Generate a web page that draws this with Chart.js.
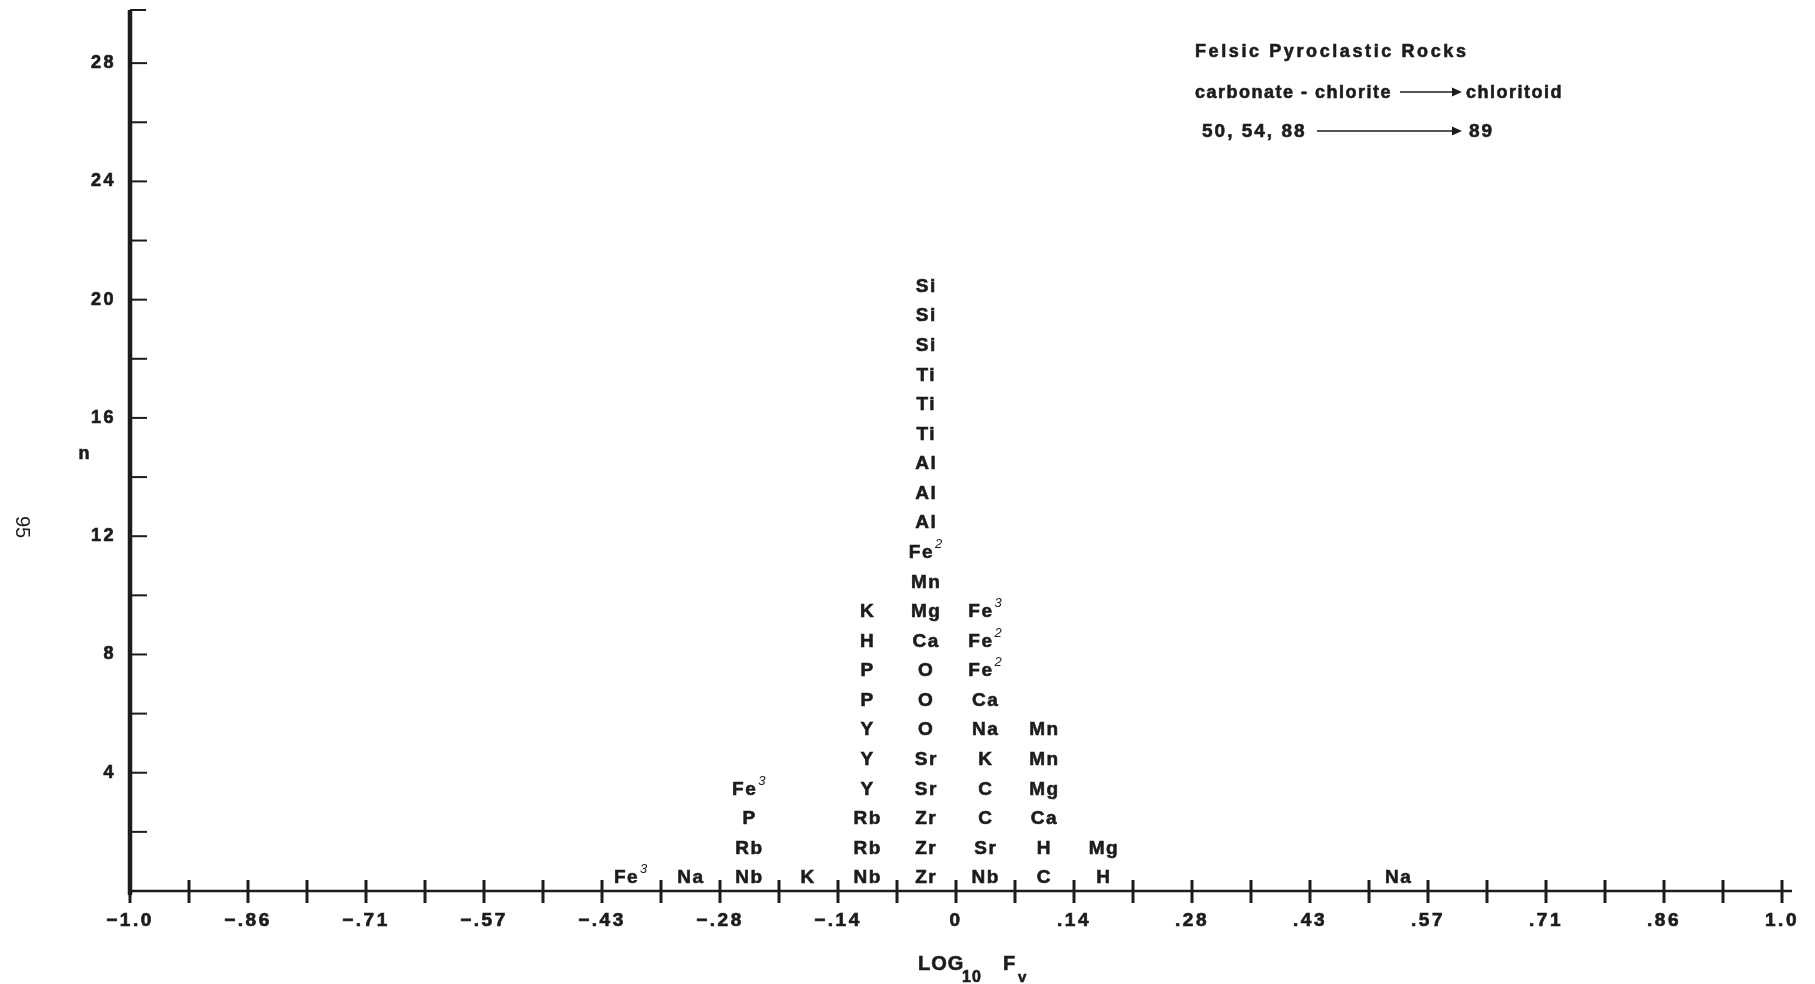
<!DOCTYPE html>
<html>
<head>
<meta charset="utf-8">
<title>Felsic Pyroclastic Rocks</title>
<script src="https://cdn.jsdelivr.net/npm/chart.js@4.4.1/dist/chart.umd.min.js"></script>
<style>
  html, body { margin: 0; padding: 0; background: #fff; }
  #wrap { width: 1815px; height: 984px; position: relative; }
</style>
</head>
<body>
<div id="wrap"><canvas id="myChart"></canvas></div>
<script>
// centres of the log10 Fv bins (bin width 1/14)
const binCenters = [-0.393, -0.321, -0.25, -0.179, -0.107, -0.036, 0.036, 0.107, 0.179, 0.536];

// elements stacked in each bin, from the axis upward ("^" = superscript)
const binElements = [
    ["Fe^3"],
    ["Na"],
    ["Nb", "Rb", "P", "Fe^3"],
    ["K"],
    ["Nb", "Rb", "Rb", "Y", "Y", "Y", "P", "P", "H", "K"],
    ["Zr", "Zr", "Zr", "Sr", "Sr", "O", "O", "O", "Ca", "Mg", "Mn", "Fe^2", "Al", "Al", "Al", "Ti", "Ti", "Ti", "Si", "Si", "Si"],
    ["Nb", "Sr", "C", "C", "K", "Na", "Ca", "Fe^2", "Fe^2", "Fe^3"],
    ["C", "H", "Ca", "Mg", "Mn", "Mn"],
    ["H", "Mg"],
    ["Na"]
];

const xTickLabels = ["\u22121.0", "\u2212.86", "\u2212.71", "\u2212.57", "\u2212.43", "\u2212.28", "\u2212.14", "0", ".14", ".28", ".43", ".57", ".71", ".86", "1.0"];
const yTickValues = [2, 4, 6, 8, 10, 12, 14, 16, 18, 20, 22, 24, 26, 28];
const yTickLabels = ["", "4", "", "8", "", "12", "", "16", "", "20", "", "24", "", "28"];

const ink = '#1c1c1c';
const FONT = '"Liberation Sans", Arial, sans-serif';

// tick every 1/14, labelled every other one
let xTicks = [];
for (let k = 0; k <= 28; k++) xTicks.push(-1 + k / 14);

let points = [];
binElements.forEach((list, b) => {
    list.forEach((name, i) => {
        points.push({ x: binCenters[b], y: i + 0.5, name: name });
    });
});

// filled and lightly stroked, the scan is heavy
function heavyText(ctx, s, x, y) {
    ctx.lineWidth = 0.6;
    ctx.fillText(s, x, y);
    ctx.strokeText(s, x, y);
}

function drawElement(ctx, name, x, y) {
    let parts = name.split('^');
    ctx.font = 'bold 19px ' + FONT;
    let w = ctx.measureText(parts[0]).width;
    let sw = 0;
    if (parts[1]) {
        ctx.font = 'italic 13px ' + FONT;
        sw = ctx.measureText(parts[1]).width + 1;
    }
    let x0 = x - (w + sw) / 2;
    ctx.font = 'bold 19px ' + FONT;
    heavyText(ctx, parts[0], x0, y + 7);
    if (parts[1]) {
        ctx.font = 'italic 13px ' + FONT;
        ctx.fillText(parts[1], x0 + w + 1, y - 3);
    }
}

const spacingPlugin = {
    id: 'spacing',
    beforeDraw(chart) {
        chart.ctx.letterSpacing = '2.5px';
    }
};

const axisPlugin = {
    id: 'axes',
    afterDraw(chart) {
        const ctx = chart.ctx;
        const xs = chart.scales.x;
        const ys = chart.scales.y;
        const a = chart.chartArea;
        ctx.save();
        ctx.strokeStyle = ink;
        ctx.lineCap = 'butt';

        // y axis, thick, with a cap at the top
        ctx.lineWidth = 4.5;
        ctx.beginPath();
        ctx.moveTo(a.left, a.top + 6);
        ctx.lineTo(a.left, a.bottom + 4);
        ctx.stroke();
        ctx.lineWidth = 2;
        ctx.beginPath();
        ctx.moveTo(a.left, a.top + 6);
        ctx.lineTo(a.left + 16, a.top + 6);
        ctx.stroke();

        // y ticks point into the plot
        yTickValues.forEach(v => {
            let py = ys.getPixelForValue(v);
            ctx.beginPath();
            ctx.moveTo(a.left, py);
            ctx.lineTo(a.left + 17, py);
            ctx.stroke();
        });

        // x axis
        ctx.lineWidth = 2.5;
        ctx.beginPath();
        ctx.moveTo(a.left, a.bottom);
        ctx.lineTo(a.right + 10, a.bottom);
        ctx.stroke();

        // x ticks cross the axis
        ctx.lineWidth = 3;
        xTicks.forEach(v => {
            let px = xs.getPixelForValue(v);
            ctx.beginPath();
            ctx.moveTo(px, a.bottom - 11);
            ctx.lineTo(px, a.bottom + 12);
            ctx.stroke();
        });
        ctx.restore();
    }
};

const labelPlugin = {
    id: 'elementLabels',
    afterDatasetsDraw(chart) {
        const ctx = chart.ctx;
        const meta = chart.getDatasetMeta(0);
        const data = chart.data.datasets[0].data;
        ctx.save();
        ctx.fillStyle = ink;
        ctx.strokeStyle = ink;
        ctx.textAlign = 'left';
        ctx.textBaseline = 'alphabetic';
        ctx.letterSpacing = '1.5px';
        meta.data.forEach((el, i) => {
            drawElement(ctx, data[i].name, el.x, el.y);
        });
        ctx.restore();
    }
};

function arrow(ctx, x1, x2, y) {
    ctx.lineWidth = 1.5;
    ctx.beginPath();
    ctx.moveTo(x1, y);
    ctx.lineTo(x2 - 8, y);
    ctx.stroke();
    ctx.beginPath();
    ctx.moveTo(x2, y);
    ctx.lineTo(x2 - 10, y - 4.5);
    ctx.lineTo(x2 - 10, y + 4.5);
    ctx.closePath();
    ctx.fill();
}

const textPlugin = {
    id: 'texts',
    afterDraw(chart) {
        const ctx = chart.ctx;
        ctx.save();
        ctx.fillStyle = ink;
        ctx.strokeStyle = ink;
        ctx.textBaseline = 'alphabetic';
        ctx.textAlign = 'left';

        // legend block, top right
        ctx.letterSpacing = '2.6px';
        ctx.font = 'bold 18px ' + FONT;
        heavyText(ctx, 'Felsic Pyroclastic Rocks', 1195, 57);
        ctx.letterSpacing = '1.5px';
        heavyText(ctx, 'carbonate - chlorite', 1195, 98);
        arrow(ctx, 1400, 1462, 92);
        heavyText(ctx, 'chloritoid', 1466, 98);
        ctx.letterSpacing = '2px';
        ctx.font = 'bold 19px ' + FONT;
        heavyText(ctx, '50, 54, 88', 1202, 137);
        arrow(ctx, 1317, 1462, 131);
        heavyText(ctx, '89', 1469, 137);

        // axis titles
        ctx.font = 'bold 18px ' + FONT;
        ctx.textAlign = 'center';
        heavyText(ctx, 'n', 85, 459);

        ctx.textAlign = 'left';
        ctx.letterSpacing = '1px';
        ctx.font = 'bold 20px ' + FONT;
        heavyText(ctx, 'LOG', 918, 970);
        ctx.font = 'bold 16px ' + FONT;
        heavyText(ctx, '10', 962, 982);
        ctx.font = 'bold 20px ' + FONT;
        heavyText(ctx, 'F', 1003, 970);
        ctx.font = 'bold 15px ' + FONT;
        heavyText(ctx, 'v', 1018, 982);

        // page number, printed sideways
        ctx.letterSpacing = '0px';
        ctx.font = '20px ' + FONT;
        ctx.translate(22, 527);
        ctx.rotate(Math.PI / 2);
        ctx.textAlign = 'center';
        ctx.textBaseline = 'middle';
        ctx.fillText('95', 0, 0);
        ctx.restore();
    }
};

function noPad(s) {
    s.paddingTop = 0;
    s.paddingBottom = 0;
    s.paddingLeft = 0;
    s.paddingRight = 0;
}

let myChart = new Chart(document.getElementById('myChart'), {
    type: 'scatter',
    data: {
        datasets: [{
            data: points,
            pointRadius: 0,
            pointHoverRadius: 0,
            showLine: false
        }]
    },
    options: {
        responsive: true,
        maintainAspectRatio: false,
        animation: false,
        events: [],
        layout: { padding: { top: 4, right: 33, left: 0, bottom: 0 } },
        plugins: {
            legend: { display: false },
            tooltip: { enabled: false }
        },
        scales: {
            x: {
                type: 'linear',
                min: -1,
                max: 1,
                afterBuildTicks: s => { s.ticks = xTicks.map(v => ({ value: v })); },
                afterFit: s => { s.height = 93; noPad(s); },
                grid: { display: false, drawTicks: false },
                border: { display: false },
                ticks: {
                    autoSkip: false,
                    maxRotation: 0,
                    minRotation: 0,
                    padding: 18,
                    color: ink,
                    textStrokeColor: ink,
                    textStrokeWidth: 0.7,
                    font: { family: FONT, size: 19, weight: 'bold' },
                    callback: (v, i) => (i % 2 === 0 ? xTickLabels[i / 2] : '')
                }
            },
            y: {
                type: 'linear',
                min: 0,
                max: 30,
                afterBuildTicks: s => { s.ticks = yTickValues.map(v => ({ value: v })); },
                afterFit: s => { s.width = 130; noPad(s); },
                grid: { display: false, drawTicks: false },
                border: { display: false },
                ticks: {
                    autoSkip: false,
                    padding: 14,
                    color: ink,
                    textStrokeColor: ink,
                    textStrokeWidth: 0.7,
                    font: { family: FONT, size: 18, weight: 'bold' },
                    callback: (v, i) => yTickLabels[i]
                }
            }
        }
    },
    plugins: [spacingPlugin, axisPlugin, labelPlugin, textPlugin]
});
</script>
</body>
</html>
